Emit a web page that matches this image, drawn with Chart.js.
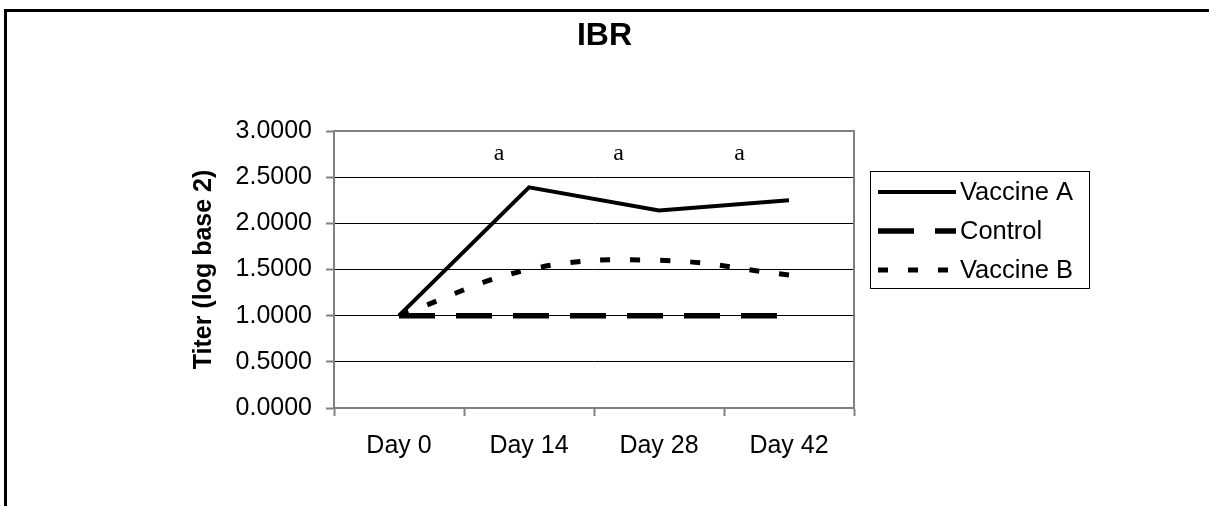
<!DOCTYPE html>
<html>
<head>
<meta charset="utf-8">
<title>IBR</title>
<script src="https://cdn.jsdelivr.net/npm/chart.js@4"></script>
<style>
  body { margin: 0; background: #fff; overflow: hidden; }
  #frame {
    position: absolute; left: 4px; top: 9px;
    width: 1300px; height: 600px;
    border: 3px solid #000;
  }
  #myChart { position: absolute; left: 0; top: 0; }
</style>
</head>
<body>
<div id="frame"></div>
<canvas id="myChart" width="1209" height="506"></canvas>
<script>
var chartTitle = "IBR";
var axisTitle = "Titer (log base 2)";
var days = ["Day 0", "Day 14", "Day 28", "Day 42"];
var vaccineA = [1.0, 2.39, 2.14, 2.25];
var control = [1.0, 1.0, 1.0, 1.0];
var vaccineB = [1.0, 1.50, 1.60, 1.44];
var letters = ["a", "a", "a"];

var gray = "#808080";
var sans = "'Liberation Sans', Arial, sans-serif";

// title, legend, significance letters and the gray plot frame
var extras = {
    id: "extras",
    beforeDatasetsDraw: function(chart) {
        var a = chart.chartArea, ctx = chart.ctx;
        ctx.save();
        ctx.strokeStyle = gray;
        ctx.lineWidth = 2;
        ctx.beginPath();
        ctx.moveTo(a.left, a.top);
        ctx.lineTo(a.right, a.top);
        ctx.lineTo(a.right, a.bottom);
        ctx.stroke();
        ctx.restore();
    },
    afterDraw: function(chart) {
        var ctx = chart.ctx;
        var x = chart.scales.x, y = chart.scales.y;
        ctx.save();
        ctx.fillStyle = "#000";

        ctx.font = "bold 32px " + sans;
        ctx.textAlign = "center";
        ctx.textBaseline = "middle";
        ctx.fillText(chartTitle, chart.width / 2, 36);

        // letters sit between the sampling days
        ctx.font = "24px 'Liberation Serif', 'Times New Roman', serif";
        var spots = [0.77, 1.69, 2.62];
        letters.forEach(function(t, i) {
            ctx.fillText(t, x.getPixelForValue(spots[i]), y.getPixelForValue(2.75));
        });

        // legend
        var lx = 870, ly = 171;
        ctx.strokeStyle = "#000";
        ctx.lineWidth = 1;
        ctx.strokeRect(lx + 0.5, ly + 0.5, 219, 117);
        ctx.font = "25.5px " + sans;
        ctx.textAlign = "left";
        chart.data.datasets.forEach(function(ds, i) {
            var ry = ly + 21 + i * 39;
            ctx.beginPath();
            ctx.setLineDash(ds.borderDash || []);
            ctx.lineWidth = ds.borderWidth;
            ctx.moveTo(lx + 8, ry);
            ctx.lineTo(lx + 86, ry);
            ctx.stroke();
            ctx.setLineDash([]);
            ctx.fillText(ds.label, lx + 90, ry + 1);
        });
        ctx.restore();
    }
};

new Chart("myChart", {
    type: "line",
    data: {
        labels: days,
        datasets: [
            {label: "Vaccine A", data: vaccineA, borderColor: "#000", borderWidth: 4, pointRadius: 0, tension: 0},
            {label: "Control", data: control, borderColor: "#000", borderWidth: 5.5, borderDash: [36, 21], pointRadius: 0, tension: 0},
            {label: "Vaccine B", data: vaccineB, borderColor: "#000", borderWidth: 5, borderDash: [10, 20], pointRadius: 0, tension: 0.4}
        ]
    },
    options: {
        responsive: false,
        animation: false,
        events: [],
        layout: {padding: {top: 131, left: 0, right: 355, bottom: 0}},
        plugins: {legend: {display: false}, title: {display: false}, tooltip: {enabled: false}},
        scales: {
            x: {
                offset: true,
                afterFit: function(s) { s.height = 98; },
                grid: {offset: true, drawOnChartArea: false, tickLength: 8, tickColor: gray, tickWidth: 2},
                border: {color: gray, width: 2},
                ticks: {color: "#000", padding: 15, font: {family: sans, size: 25}, maxRotation: 0}
            },
            y: {
                min: 0,
                max: 3,
                afterFit: function(s) { s.width = 334; },
                grid: {color: "#000", lineWidth: 1, tickLength: 8, tickColor: gray, tickWidth: 2},
                border: {color: gray, width: 2},
                ticks: {
                    stepSize: 0.5,
                    padding: 14,
                    color: "#000",
                    font: {family: sans, size: 25},
                    callback: function(v) { return Number(v).toFixed(4); }
                },
                title: {
                    display: true,
                    text: axisTitle,
                    color: "#000",
                    font: {family: sans, size: 25, weight: "bold"},
                    padding: {top: 189, bottom: 0}
                }
            }
        }
    },
    plugins: [extras]
});
</script>
</body>
</html>
